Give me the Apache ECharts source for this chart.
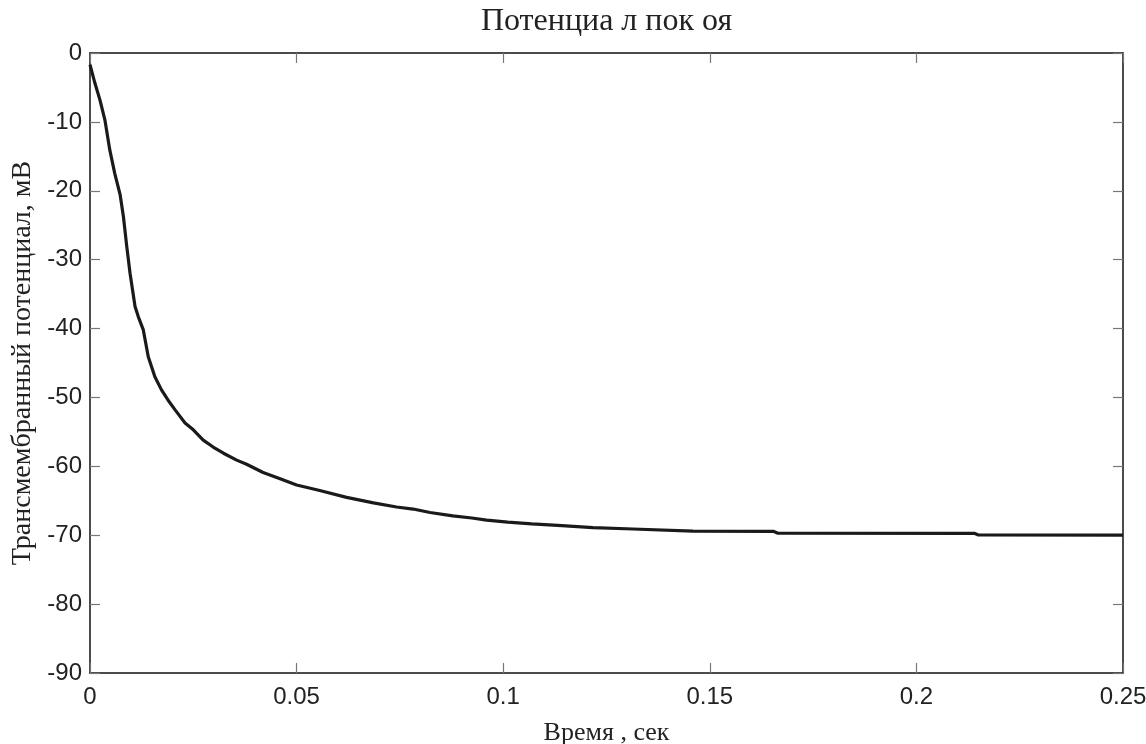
<!DOCTYPE html>
<html>
<head>
<meta charset="utf-8">
<script src="https://cdn.jsdelivr.net/npm/echarts@6/dist/echarts.min.js"></script>
<style>html,body{margin:0;padding:0;background:#fff}#c{width:1146px;height:744px}</style>
</head>
<body>
<div id="c"></div>
<script>
const titleText = 'Потенциа л пок оя';
const xName = 'Время , сек';
const yName = 'Трансмембранный потенциал, мВ';
const xTicks = [0, 0.05, 0.1, 0.15, 0.2, 0.25];
const yTicks = [0, -10, -20, -30, -40, -50, -60, -70, -80, -90];

const time = [0, 0.0012, 0.0024, 0.0036, 0.0048, 0.006, 0.0073, 0.0081, 0.0089, 0.0097, 0.0109, 0.0117, 0.0129, 0.0141, 0.0157, 0.0173, 0.0189, 0.0206, 0.023, 0.025, 0.0274, 0.0298, 0.0323, 0.0355, 0.0379, 0.0419, 0.046, 0.05, 0.0556, 0.0621, 0.0686, 0.0742, 0.0782, 0.0823, 0.0878, 0.0924, 0.096, 0.1011, 0.1069, 0.1142, 0.1217, 0.1314, 0.1459, 0.1655, 0.1665, 0.2140, 0.2150, 0.25];
const voltage = [-1.7, -4.4, -6.8, -9.7, -14.1, -17.5, -20.6, -23.8, -28.1, -32, -36.8, -38.3, -40.2, -44.1, -47, -48.9, -50.4, -51.8, -53.7, -54.7, -56.2, -57.2, -58.1, -59.1, -59.7, -60.9, -61.8, -62.7, -63.5, -64.5, -65.3, -65.9, -66.2, -66.7, -67.2, -67.5, -67.8, -68.1, -68.35, -68.6, -68.9, -69.1, -69.4, -69.45, -69.7, -69.72, -69.97, -70];

const data = time.map((t, i) => [t, voltage[i]]);

const tickStyle = { show: true, inside: true, length: 10, lineStyle: { color: '#777', width: 1.2 } };
const lineStyle = { show: true, onZero: false, lineStyle: { color: '#111', width: 1.5 } };
const labelFont = { fontFamily: 'Liberation Sans, Arial, sans-serif', fontSize: 24, color: '#222' };
const serif = 'Liberation Serif, Times New Roman, serif';

const chart = echarts.init(document.getElementById('c'), null, { renderer: 'canvas' });
chart.setOption({
  animation: false,
  backgroundColor: '#fff',
  grid: { left: 90, right: 23, top: 53, bottom: 71, containLabel: false, outerBoundsMode: 'none' },
  xAxis: [
    { type: 'value', min: 0, max: 0.25, interval: 0.05, position: 'bottom',
      axisLine: lineStyle, axisTick: tickStyle, splitLine: { show: false },
      axisLabel: Object.assign({ margin: 12, formatter: v => String(+v.toFixed(2)) }, labelFont),
      name: xName, nameLocation: 'middle', nameGap: 47,
      nameTextStyle: { fontFamily: serif, fontSize: 26, color: '#222' } },
    { type: 'value', min: 0, max: 0.25, interval: 0.05, position: 'top',
      axisLine: lineStyle, axisTick: tickStyle, splitLine: { show: false },
      axisLabel: { show: false },
      name: titleText, nameLocation: 'middle', nameGap: 15,
      nameTextStyle: { fontFamily: serif, fontSize: 32, color: '#222' } }
  ],
  yAxis: [
    { type: 'value', min: -90, max: 0, interval: 10, position: 'left',
      axisLine: lineStyle, axisTick: tickStyle, splitLine: { show: false },
      axisLabel: Object.assign({ margin: 8 }, labelFont),
      name: yName, nameLocation: 'middle', nameGap: 50, nameRotate: 90,
      nameTextStyle: { fontFamily: serif, fontSize: 28, color: '#222' } },
    { type: 'value', min: -90, max: 0, interval: 10, position: 'right',
      axisLine: lineStyle, axisTick: tickStyle, splitLine: { show: false },
      axisLabel: { show: false } }
  ],
  series: [{
    type: 'line', data: data, xAxisIndex: 0, yAxisIndex: 0,
    showSymbol: false, symbol: 'none',
    lineStyle: { color: '#1a1a1a', width: 3.2 },
    clip: true
  }]
});
</script>
</body>
</html>
